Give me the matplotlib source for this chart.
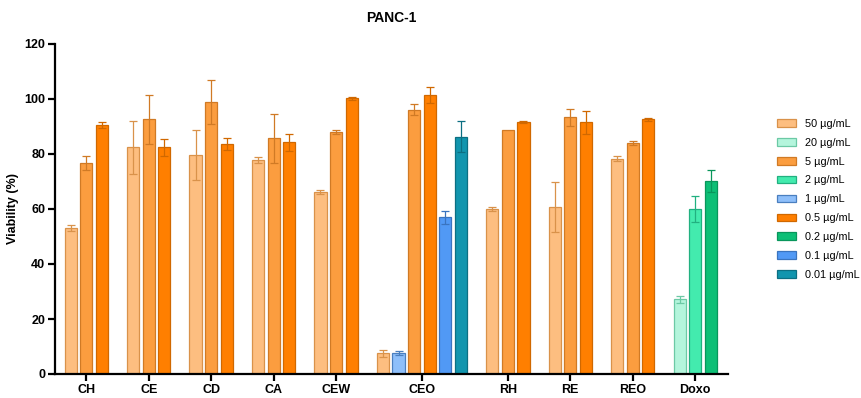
import matplotlib
matplotlib.use("Agg")
import matplotlib.pyplot as plt
from matplotlib.patches import Patch

plt.rcParams['font.family'] = ['Liberation Sans', 'DejaVu Sans']

# dose series: label, face colour, edge colour
doses = ["50 µg/mL", "20 µg/mL", "5 µg/mL", "2 µg/mL", "1 µg/mL",
         "0.5 µg/mL", "0.2 µg/mL", "0.1 µg/mL", "0.01 µg/mL"]
face = ["#FDBE80", "#B4F5DC", "#FB9D3F", "#43EBAE", "#8EBFFA",
        "#FF7F00", "#0DBF76", "#5199F5", "#1195AE"]
edge = ["#D9924A", "#6CC9A5", "#D07A25", "#22B080", "#4A7FBF",
        "#D06800", "#09965B", "#3A74BF", "#0C6F82"]

groups = ["CH", "CE", "CD", "CA", "CEW", "CEO", "RH", "RE", "REO", "Doxo"]

# index into doses for each bar of each group
group_doses = [
    [0, 2, 5], [0, 2, 5], [0, 2, 5], [0, 2, 5], [0, 2, 5],
    [0, 4, 2, 5, 7, 8],
    [0, 2, 5], [0, 2, 5], [0, 2, 5],
    [1, 3, 6],
]
means = [
    [53.2, 76.7, 90.5],
    [82.4, 92.6, 82.4],
    [79.6, 99.0, 83.6],
    [77.8, 85.7, 84.2],
    [66.3, 87.9, 100.2],
    [7.5, 7.5, 96.0, 101.6, 57.0, 86.3],
    [59.9, 88.8, 91.6],
    [60.8, 93.3, 91.5],
    [78.2, 84.1, 92.6],
    [27.2, 60.0, 70.2],
]
sds = [
    [1.1, 2.5, 1.0],
    [9.6, 9.0, 3.2],
    [9.0, 8.0, 2.1],
    [1.0, 9.0, 3.2],
    [0.7, 0.7, 0.5],
    [1.2, 0.7, 2.0, 2.9, 2.4, 5.7],
    [0.7, 0.0, 0.5],
    [9.1, 3.0, 4.1],
    [0.9, 0.8, 0.5],
    [1.2, 4.8, 4.1],
]

fig = plt.figure(figsize=(8.61, 3.98), dpi=100)
ax = fig.add_axes([55 / 861, 24 / 398, 673 / 861, 330 / 398])

pos = 0
centers = []
for gd, gm, gs in zip(group_doses, means, sds):
    xs = list(range(pos, pos + len(gd)))
    for x, d, m, s in zip(xs, gd, gm, gs):
        ax.bar(x, m, width=0.78, color=face[d], edgecolor=edge[d], linewidth=0.9, zorder=2)
        if s > 0:
            ax.errorbar(x, m, yerr=s, color=edge[d], elinewidth=0.9, capsize=3,
                        capthick=0.9, fmt='none', zorder=3)
    centers.append((xs[0] + xs[-1]) / 2)
    pos += len(gd) + 1

ax.set_xlim(-1.0, pos - 1 + 0.1)
ax.set_ylim(0, 120)
ax.set_yticks(range(0, 121, 20))
ax.set_xticks(centers)
ax.set_xticklabels(groups)
for side in ("top", "right"):
    ax.spines[side].set_visible(False)
for side in ("left", "bottom"):
    ax.spines[side].set_linewidth(1.6)
ax.tick_params(axis='both', width=1.6, length=5, labelsize=9, pad=2)
for lbl in ax.get_xticklabels() + ax.get_yticklabels():
    lbl.set_fontweight('bold')

ax.set_ylabel("Viability (%)", fontsize=9, fontweight='bold', labelpad=4)
ax.set_title("PANC-1", fontsize=10, fontweight='bold', pad=16)

handles = [Patch(facecolor=f, edgecolor=e, linewidth=0.9) for f, e in zip(face, edge)]
fig.legend(handles, doses, loc='upper left', bbox_to_anchor=(767 / 861, 1 - 109 / 398),
           frameon=False, fontsize=7.8, handlelength=1.8, handleheight=0.7,
           labelspacing=0.82, handletextpad=0.8)

fig.savefig("out.png", dpi=100)
